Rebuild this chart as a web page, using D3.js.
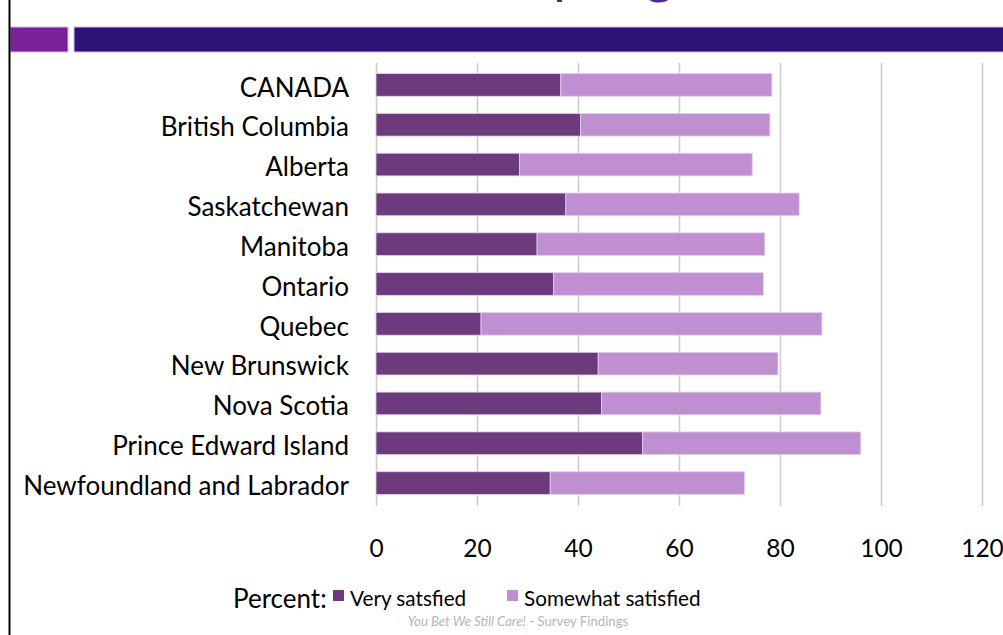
<!DOCTYPE html>
<html>
<head>
<meta charset="utf-8">
<script src="https://cdn.jsdelivr.net/npm/d3@7"></script>
<style>
  body { margin: 0; background: #fff; }
  svg { display: block; font-family: Lato, "Open Sans", sans-serif; }
</style>
</head>
<body>
<div class="viz"></div>
<script>
// data
const provinces = ["CANADA", "British Columbia", "Alberta", "Saskatchewan", "Manitoba", "Ontario",
  "Quebec", "New Brunswick", "Nova Scotia", "Prince Edward Island", "Newfoundland and Labrador"];
const verySatisfied = [36.6, 40.5, 28.4, 37.6, 31.9, 35.2, 20.8, 44.0, 44.7, 52.8, 34.5];
const somewhatSatisfied = [41.8, 37.5, 46.1, 46.2, 45.1, 41.5, 67.5, 35.6, 43.4, 43.2, 38.5];
const seriesNames = ["Very satsfied", "Somewhat satisfied"];
const xTicks = [0, 20, 40, 60, 80, 100, 120];

const width = 1003, height = 635;
const colors = ["#6D3A7D", "#BF8FD2"];

var svg = d3.select(".viz").append("svg")
  .attr("width", width)
  .attr("height", height);

/* slide decoration: title cut off by the top edge, header band, left rule */
var title = svg.append("text")
  .attr("y", -8.5)
  .attr("fill", "#4E2A8E")
  .style("font-size", "56px");
title.append("tspan").attr("x", 553).text("p");
title.append("tspan").attr("x", 645).text("g");

svg.append("rect")
  .attr("x", 10).attr("y", 27).attr("width", 58).attr("height", 25)
  .attr("fill", "#7B1F9A").attr("stroke", "#D6BFE6").attr("stroke-width", 1);
svg.append("rect")
  .attr("x", 74).attr("y", 27).attr("width", 935).attr("height", 25)
  .attr("fill", "#2E1479").attr("stroke", "#D6BFE6").attr("stroke-width", 1);
svg.append("line")
  .attr("x1", 9.5).attr("x2", 9.5).attr("y1", 0).attr("y2", height)
  .attr("stroke", "#000").attr("stroke-width", 2);

/* scales */
var xscale = d3.scaleLinear()
  .domain([0, 120])
  .range([376, 982]);

var yscale = d3.scaleBand()
  .domain(provinces)
  .range([65, 503])
  .paddingInner(0.43)
  .paddingOuter(0.215);

/* gridlines + x axis labels */
var xaxis = d3.axisBottom(xscale)
  .tickValues(xTicks)
  .tickSize(-(506 - 63))
  .tickPadding(34)
  .tickFormat(d3.format("d"));

var gx = svg.append("g")
  .attr("id", "x-axis")
  .attr("transform", "translate(0,506)")
  .call(xaxis);
gx.select(".domain").remove();
gx.selectAll(".tick line").attr("stroke", "#CDCDCD").attr("stroke-width", 1.6);
gx.selectAll(".tick text")
  .attr("fill", "#000")
  .style("font-size", "24.5px")
  .style("font-family", "Lato, sans-serif");

/* y axis labels */
var yaxis = d3.axisLeft(yscale).tickSize(0).tickPadding(27);
var gy = svg.append("g")
  .attr("id", "y-axis")
  .attr("transform", "translate(376,0)")
  .call(yaxis);
gy.select(".domain").remove();
gy.selectAll(".tick text")
  .attr("fill", "#000")
  .attr("dy", "0.45em")
  .style("font-size", "26px")
  .style("font-family", "Lato, sans-serif");

/* stacked bars */
var rows = provinces.map((p, i) => ({ province: p, very: verySatisfied[i], somewhat: somewhatSatisfied[i] }));
var stacked = d3.stack().keys(["very", "somewhat"])(rows);

svg.append("g")
  .selectAll("g")
  .data(stacked)
  .enter()
  .append("g")
  .attr("fill", (d, i) => colors[i])
  .selectAll("rect")
  .data((d) => d)
  .enter()
  .append("rect")
  .attr("x", (d) => xscale(d[0]))
  .attr("y", (d) => yscale(d.data.province))
  .attr("width", (d) => xscale(d[1]) - xscale(d[0]))
  .attr("height", yscale.bandwidth())
  .attr("stroke", "#E3D3EC")
  .attr("stroke-width", 0.8);

/* legend */
var legend = svg.append("g").attr("id", "legend");
legend.append("text")
  .attr("x", 233).attr("y", 608)
  .style("font-size", "26px")
  .text("Percent:");

var legendX = [333, 507];
seriesNames.forEach(function (name, i) {
  legend.append("rect")
    .attr("x", legendX[i]).attr("y", 590)
    .attr("width", 11).attr("height", 11)
    .attr("fill", colors[i]);
  legend.append("text")
    .attr("x", legendX[i] + 17).attr("y", 606)
    .style("font-size", "20.7px")
    .text(name);
});

/* footer */
var footer = svg.append("text")
  .attr("x", 518).attr("y", 626)
  .attr("text-anchor", "middle")
  .attr("fill", "#B5B5B5")
  .style("font-size", "13.2px");
footer.append("tspan").style("font-style", "italic").text("You Bet We Still Care!");
footer.append("tspan").text(" - Survey Findings");
</script>
</body>
</html>
